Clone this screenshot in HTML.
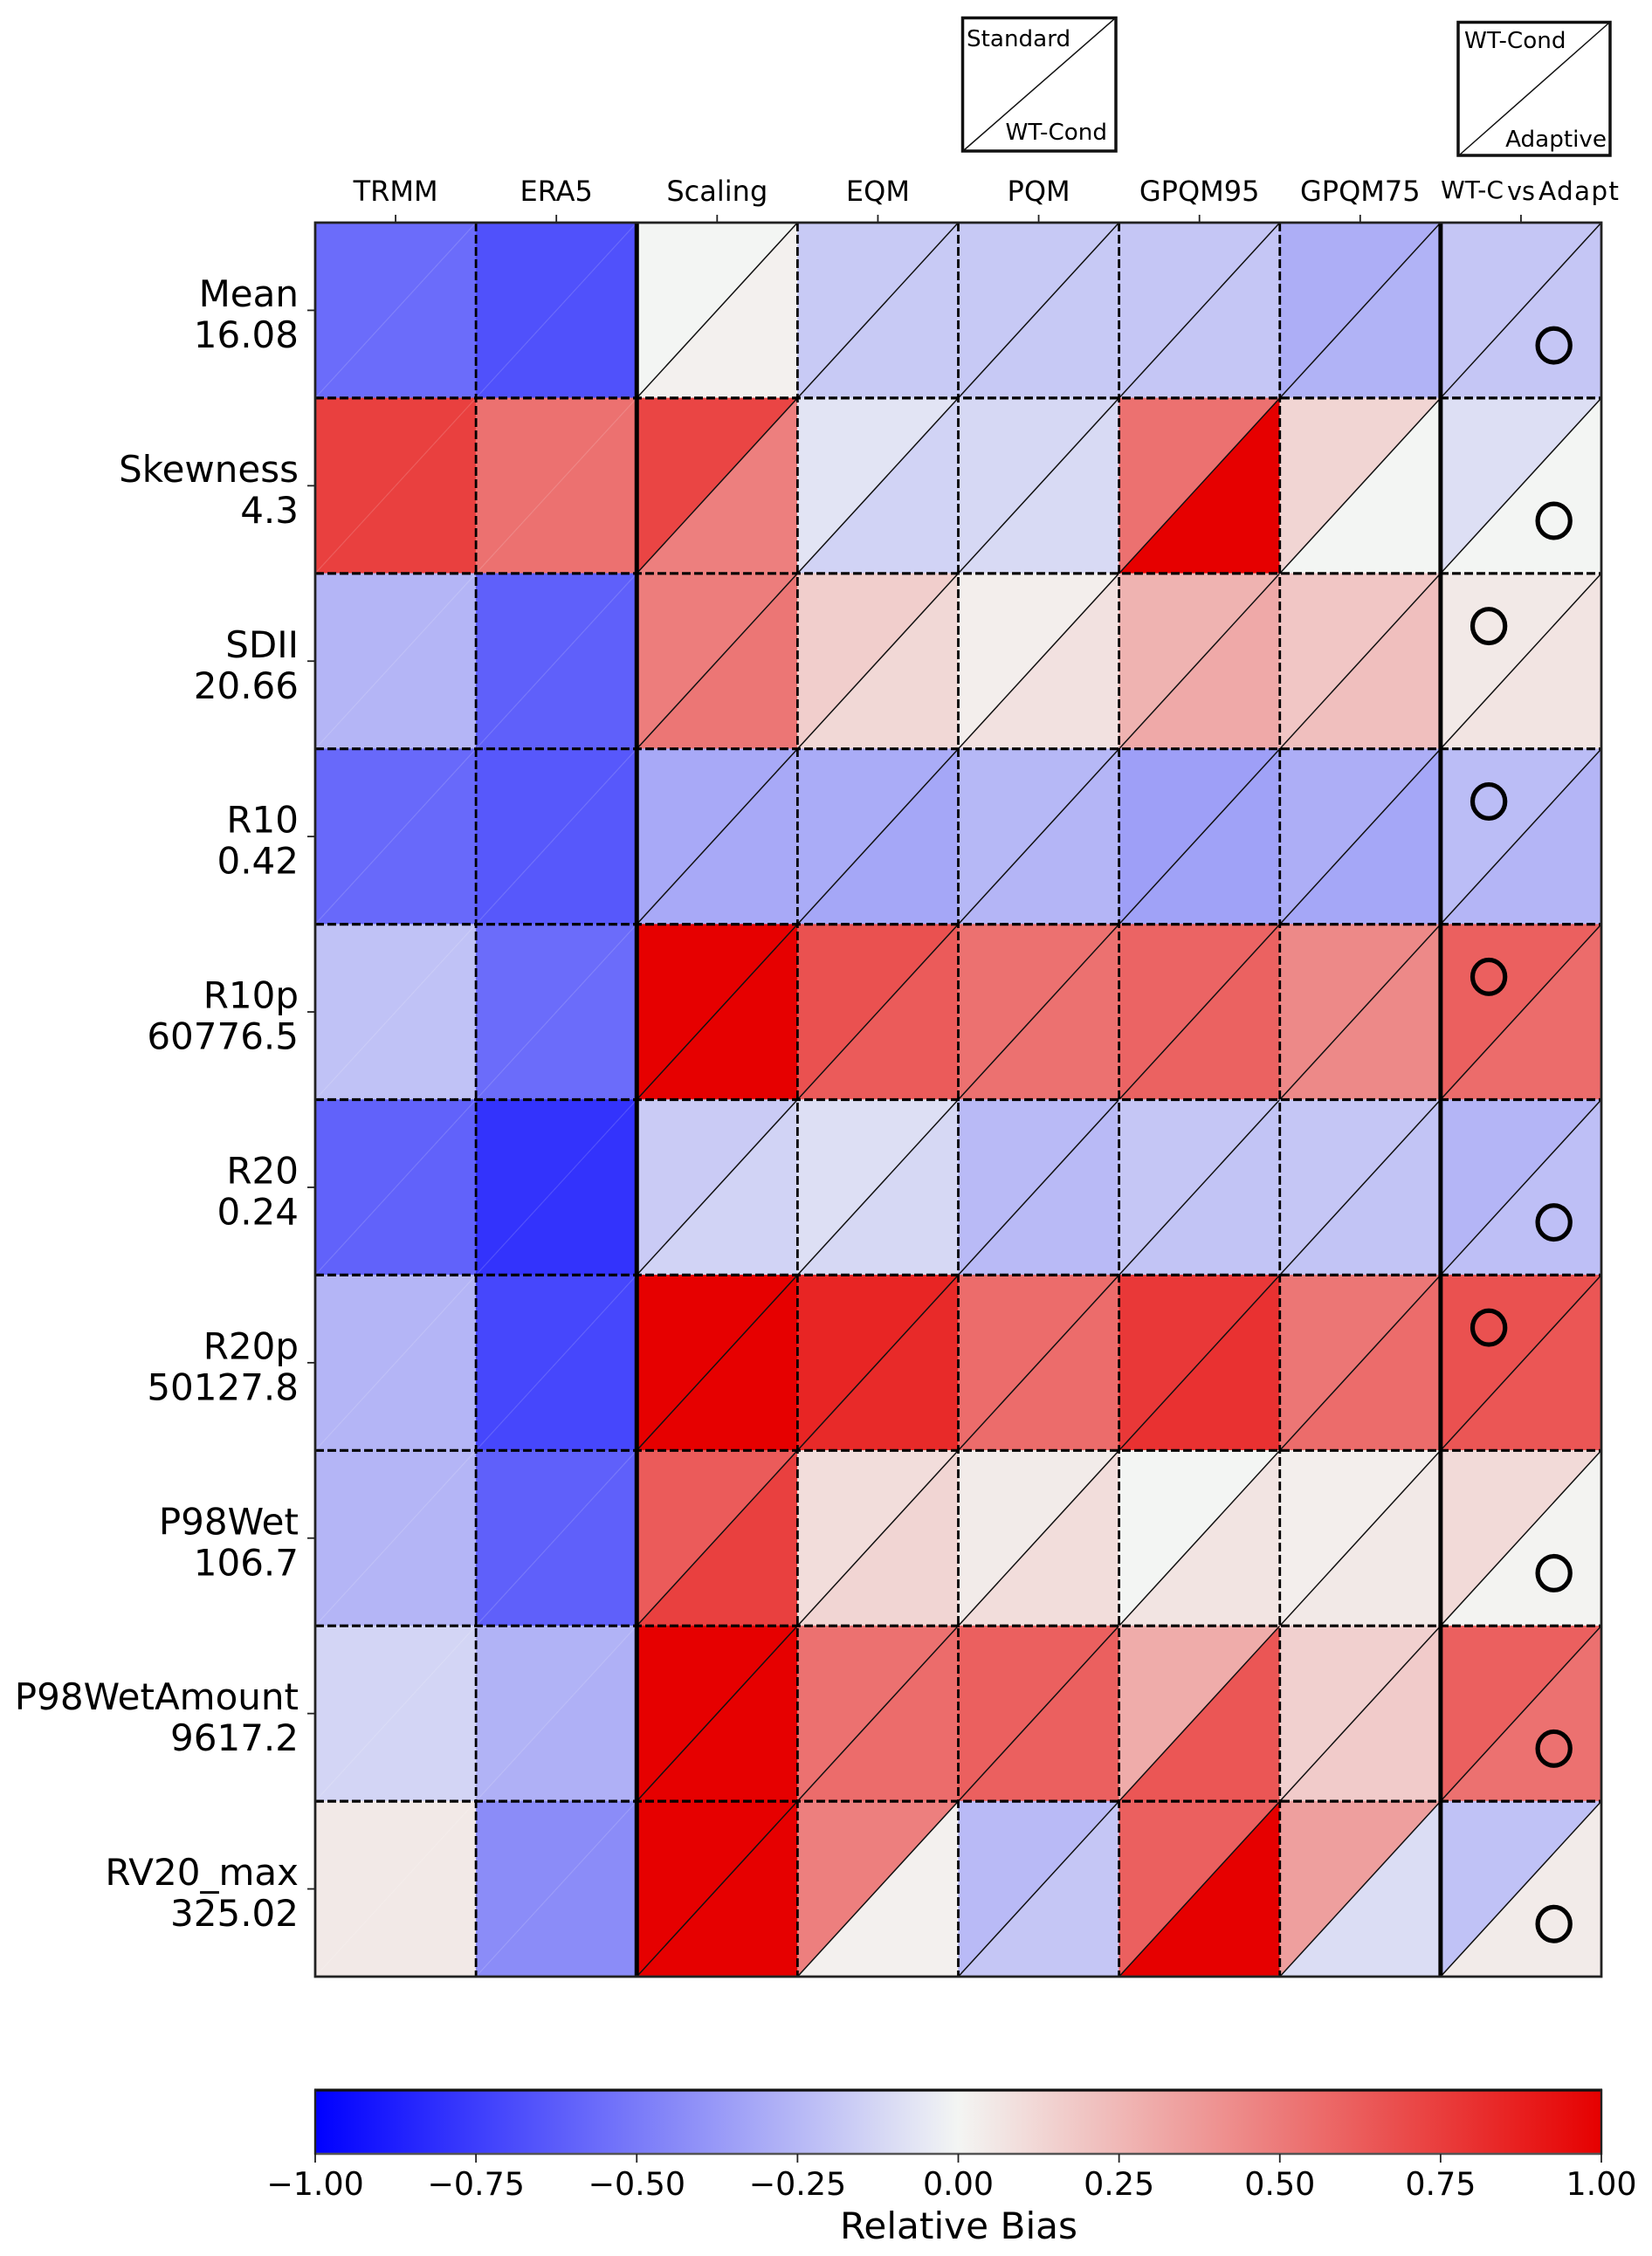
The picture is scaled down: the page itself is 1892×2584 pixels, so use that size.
<!DOCTYPE html>
<html lang="en">
<head>
<meta charset="utf-8">
<title>Relative Bias Heatmap</title>
<style>
html,body{margin:0;padding:0;background:#fff;}
svg{display:block;}
text{font-family:"DejaVu Sans","Liberation Sans",sans-serif;fill:#000;}
</style>
</head>
<body>
<svg id="chart" xmlns="http://www.w3.org/2000/svg" width="1892" height="2584" viewBox="0 0 1892 2584">
<rect width="1892" height="2584" fill="#fff"/>
<g id="cells"></g>
<g id="grid"></g>
<g id="marks"></g>
<g id="axes"></g>
<g id="colorbar"></g>
<g>
  <rect x="1102.5" y="20.5" width="175.5" height="152.5" fill="#fff" stroke="#111" stroke-width="3.5"/>
  <line x1="1104" y1="172" x2="1277" y2="21" stroke="#111" stroke-width="1.5"/>
  <text x="1107" y="53" font-size="26.2">Standard</text>
  <text x="1268" y="160" font-size="26.2" text-anchor="end">WT-Cond</text>
</g>
<g>
  <rect x="1670" y="25.5" width="174" height="152.5" fill="#fff" stroke="#111" stroke-width="3.5"/>
  <line x1="1672" y1="177" x2="1843" y2="26" stroke="#111" stroke-width="1.5"/>
  <text x="1677" y="55" font-size="26.2">WT-Cond</text>
  <text x="1840" y="168" font-size="26.2" text-anchor="end">Adaptive</text>
</g>
<text x="1650" y="227" font-size="28" textLength="72" lengthAdjust="spacingAndGlyphs">WT-C</text>
<text x="1726" y="229" font-size="29.5" textLength="32" lengthAdjust="spacingAndGlyphs">vs</text>
<text x="1762" y="229" font-size="29.5" textLength="92" lengthAdjust="spacing">Adapt</text>
</svg>
<script>
var columns = ['TRMM','ERA5','Scaling','EQM','PQM','GPQM95','GPQM75',''];
var metricNames = ['Mean','Skewness','SDII','R10','R10p','R20','R20p','P98Wet','P98WetAmount','RV20_max'];
var metricRefs = ['16.08','4.3','20.66','0.42','60776.5','0.24','50127.8','106.7','9617.2','325.02'];
var upperValues = [
 [-0.56,-0.67,0.00,-0.175,-0.18,-0.19,-0.29,-0.19],
 [0.74,0.54,0.72,-0.07,-0.12,0.54,0.13,-0.09],
 [-0.26,-0.61,0.49,0.16,0.03,0.27,0.19,0.05],
 [-0.57,-0.64,-0.31,-0.30,-0.25,-0.35,-0.29,-0.23],
 [-0.21,-0.56,1.00,0.67,0.54,0.59,0.44,0.61],
 [-0.60,-0.79,-0.17,-0.09,-0.24,-0.19,-0.19,-0.26],
 [-0.26,-0.71,1.00,0.85,0.56,0.77,0.52,0.67],
 [-0.26,-0.61,0.63,0.10,0.04,0.00,0.03,0.11],
 [-0.13,-0.27,1.00,0.54,0.61,0.30,0.15,0.61],
 [0.05,-0.43,1.00,0.48,-0.24,0.61,0.35,-0.21]
];
var lowerValues = [
 [-0.56,-0.67,0.02,-0.175,-0.18,-0.19,-0.27,-0.19],
 [0.74,0.54,0.48,-0.14,-0.11,1.00,0.00,0.00],
 [-0.26,-0.61,0.52,0.12,0.08,0.31,0.22,0.07],
 [-0.57,-0.64,-0.31,-0.32,-0.26,-0.34,-0.32,-0.26],
 [-0.21,-0.56,1.00,0.63,0.54,0.60,0.44,0.56],
 [-0.60,-0.79,-0.14,-0.12,-0.24,-0.20,-0.20,-0.22],
 [-0.26,-0.71,1.00,0.83,0.56,0.80,0.56,0.65],
 [-0.26,-0.61,0.74,0.13,0.10,0.07,0.05,0.01],
 [-0.13,-0.28,1.00,0.56,0.61,0.65,0.17,0.54],
 [0.05,-0.43,1.00,0.02,-0.19,1.00,-0.10,0.04]
];
var circleSide = ['lower','lower','upper','upper','upper','lower','upper','lower','lower','lower'];
var colorbarTicks = [-1,-0.75,-0.5,-0.25,0,0.25,0.5,0.75,1];
var colorbarTickLabels = ['\u22121.00','\u22120.75','\u22120.50','\u22120.25','0.00','0.25','0.50','0.75','1.00'];

var NS = 'http://www.w3.org/2000/svg';
var plot = {left:361, right:1834, top:255, bottom:2264};
var colW = (plot.right - plot.left) / columns.length;
var rowH = (plot.bottom - plot.top) / metricNames.length;
function xCol(i){ return plot.left + i * colW; }
function yRow(i){ return plot.top + i * rowH; }
function xBar(v){ return plot.left + (v + 1) / 2 * (plot.right - plot.left); }
function colorOf(v){
  var r,g,b;
  v = Math.max(-1, Math.min(1, v));
  if (v < 0){ r = 243 * (1 + v); g = 245 * (1 + v); b = 243 - 12 * v; }
  else { r = 243 - 13 * v; g = 245 * (1 - v); b = 243 * (1 - v); }
  return 'rgb(' + Math.round(r) + ',' + Math.round(g) + ',' + Math.round(b) + ')';
}
function mk(tag, attrs, parent, txt){
  var e = document.createElementNS(NS, tag);
  for (var k in attrs) e.setAttribute(k, attrs[k]);
  if (txt !== undefined) e.textContent = txt;
  parent.appendChild(e);
  return e;
}
var cellsG = document.getElementById('cells');
var gridG = document.getElementById('grid');
var marksG = document.getElementById('marks');
var axesG = document.getElementById('axes');
var barG = document.getElementById('colorbar');

metricNames.forEach(function(m, r){
  columns.forEach(function(c, i){
    var x0 = xCol(i), x1 = xCol(i + 1), y0 = yRow(r), y1 = yRow(r + 1);
    var up = mk('polygon', {points: x0+','+y0+' '+x1+','+y0+' '+x0+','+y1, fill: colorOf(upperValues[r][i]), stroke: colorOf(upperValues[r][i]), 'stroke-width': 0.5}, cellsG);
    
    
    var lo = mk('polygon', {points: x1+','+y0+' '+x1+','+y1+' '+x0+','+y1, fill: colorOf(lowerValues[r][i]), stroke: colorOf(lowerValues[r][i]), 'stroke-width': 0.5}, cellsG);
    
    
    var diag = mk('line', {x1:x0, y1:y1, x2:x1, y2:y0, stroke: i < 2 ? 'rgba(255,255,255,0.15)' : '#111', 'stroke-width': i < 2 ? 1.2 : 1.5}, cellsG);
    
    
  });
  var cx = xCol(7) + colW * (circleSide[r] === 'upper' ? 0.3 : 0.705);
  var cy = yRow(r) + rowH * (circleSide[r] === 'upper' ? 0.3 : 0.7);
  var circ = mk('ellipse', {cx:cx, cy:cy, rx:18.6, ry:19.4, fill:'none', stroke:'#000', 'stroke-width':5.2}, marksG);
  
  

  var yc = yRow(r) + rowH / 2;
  var tick = mk('line', {x1:352, y1:yc, x2:plot.left, y2:yc, stroke:'#222', 'stroke-width':1.8}, axesG);
  
  
  var l1 = mk('text', {x:342, y:yc - 4.5, 'font-size':42, 'text-anchor':'end'}, axesG, m);
  
  
  var l2 = mk('text', {x:342, y:yc + 42.5, 'font-size':42, 'text-anchor':'end'}, axesG, metricRefs[r]);
  
  
});

for (var r = 1; r < metricNames.length; r++){
  var hl = mk('line', {x1:plot.left, y1:yRow(r), x2:plot.right, y2:yRow(r), stroke:'#000', 'stroke-width':3.2, 'stroke-dasharray':'10 4'}, gridG);
  
  
}
for (var i = 1; i < columns.length; i++){
  var solid = (i === 2 || i === 7);
  var vl = mk('line', {x1:xCol(i), y1:plot.top, x2:xCol(i), y2:plot.bottom, stroke:'#000', 'stroke-width': solid ? 5 : 2.8, 'stroke-dasharray': solid ? 'none' : '10 4'}, gridG);
  
  
}

var frame = mk('rect', {x:plot.left, y:plot.top, width:plot.right - plot.left, height:plot.bottom - plot.top, fill:'none', stroke:'#222', 'stroke-width':2.8}, axesG);



columns.forEach(function(c, i){
  var xc = xCol(i) + colW / 2;
  var t = mk('line', {x1:xc, y1:246, x2:xc, y2:plot.top, stroke:'#222', 'stroke-width':1.8}, axesG);
  
  
  if (c){
    var lb = mk('text', {x:xc, y:230, 'font-size':32, 'text-anchor':'middle'}, axesG, c);
    
    
  }
});

var defs = mk('defs', {}, barG);
var grad = mk('linearGradient', {id:'cbGrad', x1:0, y1:0, x2:1, y2:0}, defs);
[-1,0,1].forEach(function(v){
  mk('stop', {offset:(v + 1) / 2, 'stop-color':colorOf(v)}, grad);
});
var barRect = mk('rect', {x:xBar(-1), y:2393.5, width:xBar(1) - xBar(-1), height:73.5, fill:'url(#cbGrad)', stroke:'none'}, barG);


var barTop = mk('line', {x1:xBar(-1) - 1, y1:2394, x2:xBar(1) + 1, y2:2394, stroke:'#111', 'stroke-width':3.2}, barG);


var barBottom = mk('line', {x1:xBar(-1) - 1, y1:2467, x2:xBar(1) + 1, y2:2467, stroke:'#555', 'stroke-width':2.6}, barG);


var barLeft = mk('line', {x1:xBar(-1), y1:2393, x2:xBar(-1), y2:2468, stroke:'#222', 'stroke-width':2.4}, barG);


var barRight = mk('line', {x1:xBar(1), y1:2393, x2:xBar(1), y2:2468, stroke:'#222', 'stroke-width':2.4}, barG);


colorbarTicks.forEach(function(v, i){
  var x = xBar(v);
  var t = mk('line', {x1:x, y1:2467, x2:x, y2:2477, stroke:'#222', 'stroke-width':1.8}, barG);
  
  
  var lb = mk('text', {x:x, y:2514, 'font-size':36.4, 'text-anchor':'middle'}, barG, colorbarTickLabels[i]);
  
  
});
var title = mk('text', {x:1098, y:2564, 'font-size':42.2, 'text-anchor':'middle'}, barG, 'Relative Bias');


</script>
</body>
</html>
